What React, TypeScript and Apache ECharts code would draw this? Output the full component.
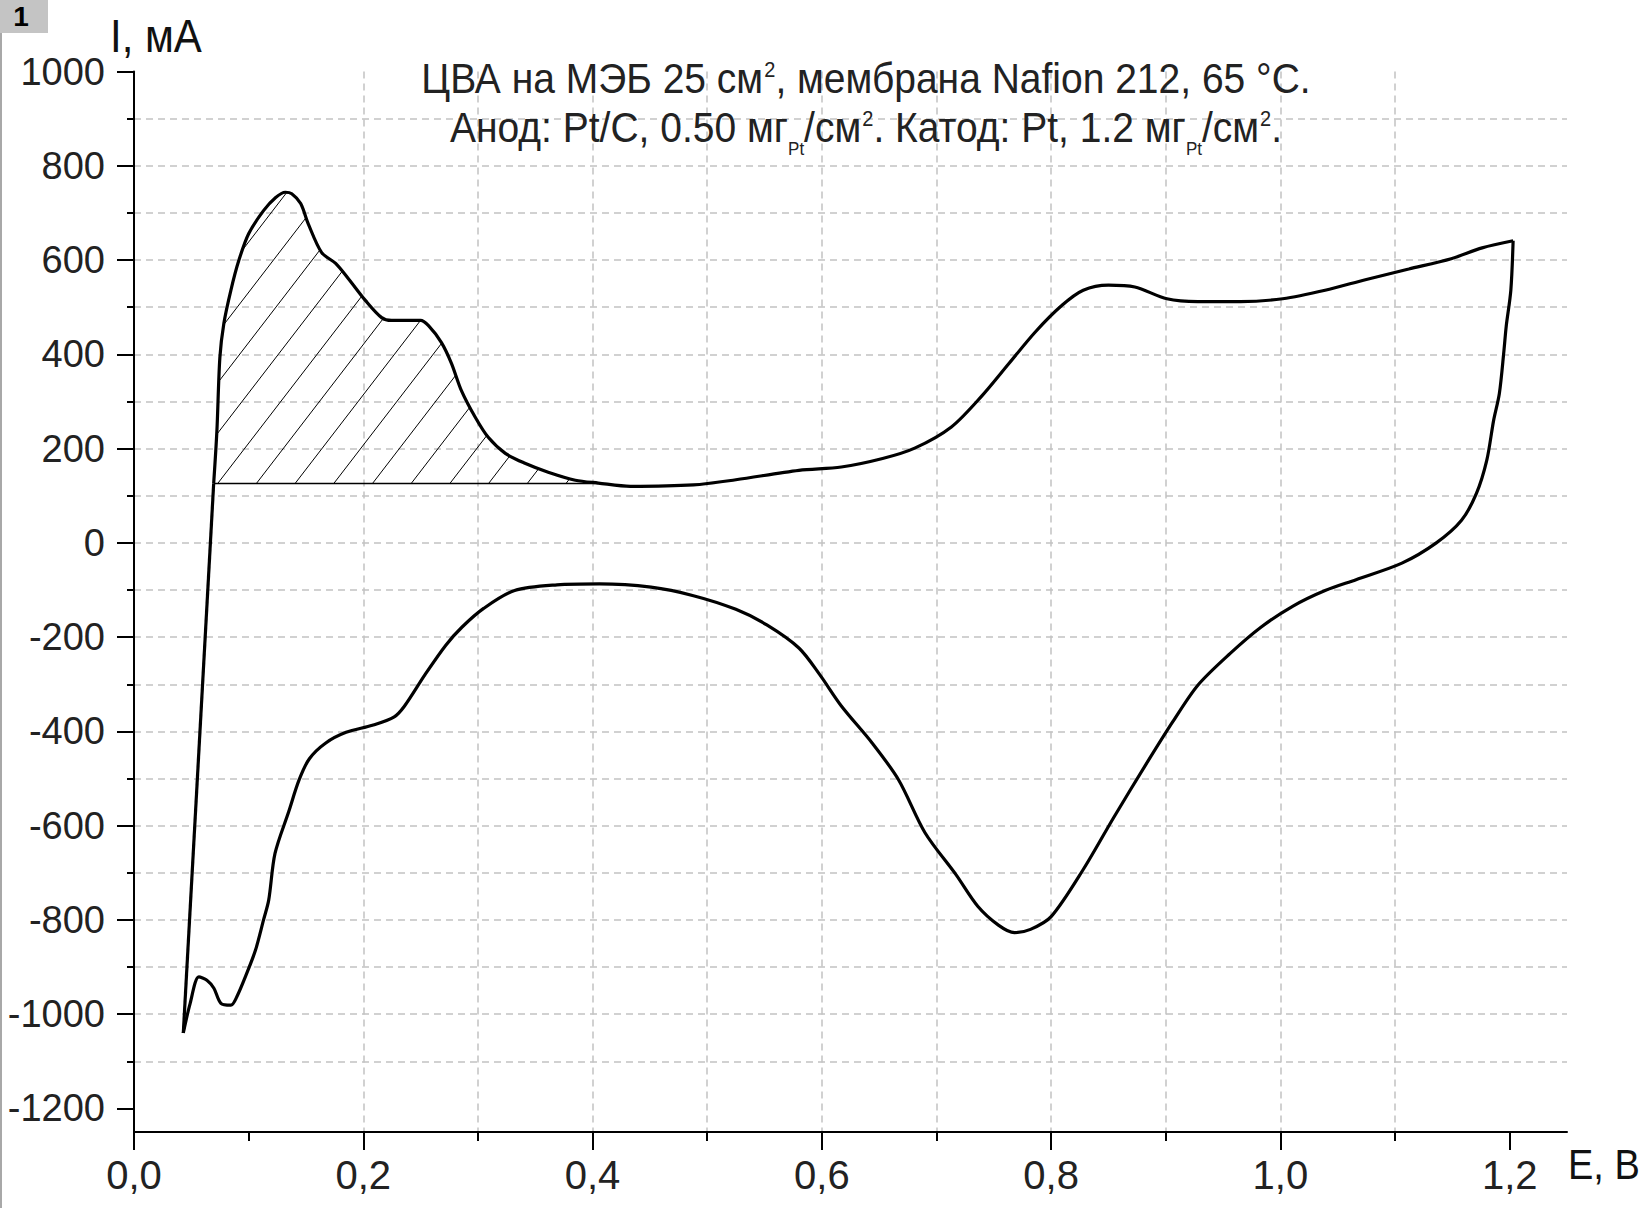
import React, { useEffect, useRef } from "react";
import * as echarts from "echarts";

// ---- data (E, V ; I, mA) ----
const risingEdge: [number, number][] = [
  [0.043, -1040], [0.0695, 126],
];
const anodicScan: [number, number][] = [
  [0.0695, 126], [0.0723, 237], [0.0749, 393], [0.0784, 466], [0.0845, 536], [0.0914, 599],
  [0.1, 656], [0.113, 705], [0.1236, 733], [0.132, 744], [0.1376, 741], [0.1454, 720],
  [0.152, 677], [0.1637, 616], [0.1759, 593], [0.1872, 560], [0.202, 514], [0.216, 478],
  [0.2246, 472], [0.2499, 472], [0.2569, 461], [0.2682, 425], [0.2769, 381], [0.2856, 323],
  [0.2978, 266], [0.309, 224], [0.3239, 190], [0.341, 169], [0.3613, 150], [0.385, 133],
  [0.405, 127], [0.433, 120], [0.488, 123], [0.525, 134], [0.58, 154], [0.617, 161],
  [0.653, 179], [0.681, 201], [0.713, 246], [0.74, 313], [0.763, 380], [0.786, 447],
  [0.809, 503], [0.828, 536], [0.85, 547], [0.873, 543], [0.901, 518], [0.928, 512],
  [0.965, 512], [1.002, 518], [1.039, 536], [1.075, 559], [1.112, 581], [1.149, 603],
  [1.176, 626], [1.203, 641],
];
const cathodicScan: [number, number][] = [
  [1.203, 641], [1.201, 536], [1.197, 460], [1.195, 408], [1.191, 317], [1.186, 260],
  [1.18, 175], [1.171, 105], [1.158, 48], [1.136, 0], [1.106, -43], [1.066, -78],
  [1.039, -101], [1.011, -134], [0.983, -179], [0.956, -235], [0.928, -302], [0.906, -380],
  [0.883, -469], [0.855, -581], [0.828, -693], [0.8, -793], [0.782, -820], [0.768, -827],
  [0.754, -811], [0.736, -771], [0.717, -704], [0.69, -615], [0.667, -503], [0.644, -425],
  [0.617, -346], [0.598, -279], [0.58, -223], [0.552, -174], [0.525, -141], [0.488, -112],
  [0.451, -94], [0.406, -87], [0.369, -89], [0.332, -101], [0.305, -139], [0.286, -179],
  [0.272, -217], [0.254, -279], [0.236, -346], [0.227, -369], [0.208, -387], [0.185, -402],
  [0.167, -425], [0.153, -458], [0.144, -503], [0.135, -570], [0.123, -659], [0.1175, -758],
  [0.113, -800], [0.106, -864], [0.0984, -913], [0.0897, -963], [0.0845, -981], [0.0758, -977],
  [0.0697, -945], [0.0636, -928], [0.0566, -921], [0.049, -977], [0.043, -1040],
];
// hatched (H-desorption) region: baseline current and right limit
const hatchBaseline = 126;
const hatchEndE = 0.405;

const xMajorTicks = [0, 0.2, 0.4, 0.6, 0.8, 1.0, 1.2];
const xGridTicks = [0.1, 0.2, 0.3, 0.4, 0.5, 0.6, 0.7, 0.8, 0.9, 1.0, 1.1, 1.2];
const yMajorTicks = [-1200, -1000, -800, -600, -400, -200, 0, 200, 400, 600, 800, 1000];
const yGridTicks = [-1200, -1100, -1000, -900, -800, -700, -600, -500, -400, -300, -200, -100,
  0, 100, 200, 300, 400, 500, 600, 700, 800, 900, 1000];

const titleLine1 = "{m|ЦВА на МЭБ 25 см}{sup|2}{m|, мембрана Nafion 212, 65 °C.}";
const titleLine2 = "{m|Анод: Pt/C, 0.50 мг}{sub|Pt}{m|/см}{sup|2}{m|. Катод: Pt, 1.2 мг}{sub|Pt}{m|/см}{sup|2}{m|.}";
const yAxisName = "I, мА";
const xAxisName = "E, B";
const panelLabel = "1";

const FONT = "'Liberation Sans', Arial, sans-serif";

export default function App() {
  const ref = useRef<HTMLDivElement>(null);
  useEffect(() => {
    if (!ref.current) return;
    const chart = echarts.init(ref.current, null, { renderer: "svg" });

    const hatchTop = anodicScan.filter((p) => p[0] <= hatchEndE && p[1] >= hatchBaseline - 1);

    const curveStyle = { color: "#000", width: 3.2 };
    const dashed = { color: "#c2c2c2", width: 1.5, type: [7, 5] as any };
    const axisText = { color: "#222", fontFamily: FONT };

    const option: any = {
      animation: false,
      backgroundColor: "#fff",
      grid: { left: 134, right: 85, top: 71.6, bottom: 76, containLabel: false },
      xAxis: [
        {
          type: "value", min: 0, max: 1.25, position: "bottom",
          axisLine: { show: true, onZero: false, lineStyle: { color: "#000", width: 2 } },
          axisTick: { show: true, customValues: xGridTicks, length: 9, lineStyle: { color: "#000", width: 2 } },
          axisLabel: { show: false },
          splitLine: { show: true, showMinLine: false, showMaxLine: false, lineStyle: dashed },
        },
        {
          type: "value", min: 0, max: 1.25, position: "bottom",
          axisLine: { show: false, onZero: false },
          axisTick: { show: true, customValues: xMajorTicks, length: 18, lineStyle: { color: "#000", width: 2 } },
          axisLabel: {
            show: true, customValues: xMajorTicks, margin: 23, fontSize: 40, ...axisText,
            formatter: (v: number) => v.toFixed(1).replace(".", ","),
          },
          splitLine: { show: false },
        },
      ],
      yAxis: [
        {
          type: "value", min: -1250, max: 1000, position: "left",
          axisLine: { show: true, onZero: false, lineStyle: { color: "#000", width: 2 } },
          axisTick: { show: true, customValues: yGridTicks, length: 7, lineStyle: { color: "#000", width: 2 } },
          axisLabel: { show: false },
          splitLine: { show: true, showMinLine: false, showMaxLine: false, lineStyle: dashed },
        },
        {
          type: "value", min: -1250, max: 1000, position: "left",
          axisLine: { show: false, onZero: false },
          axisTick: { show: true, customValues: yMajorTicks, length: 17, lineStyle: { color: "#000", width: 2 } },
          axisLabel: {
            show: true, customValues: yMajorTicks, margin: 29, fontSize: 38, ...axisText,
            formatter: (v: number) => String(v),
          },
          splitLine: { show: false },
        },
      ],
      series: [
        {
          type: "custom",
          coordinateSystem: "cartesian2d",
          xAxisIndex: 0, yAxisIndex: 0,
          silent: true,
          data: [[hatchTop[0][0], hatchBaseline]],
          renderItem: (_params: any, api: any) => {
            const top = hatchTop.map((p) => api.coord(p));
            const baseL = api.coord([hatchTop[0][0], hatchBaseline]);
            const baseR = api.coord([hatchEndE, hatchBaseline]);
            const poly = [...top, baseR, baseL];
            const slope = 1.3;
            const spacing = 38.7;
            const baseY = baseL[1];
            const children: any[] = [];
            for (let x0 = baseL[0] + 4 - 30 * spacing; x0 < baseR[0] + 2; x0 += spacing) {
              const f = (p: number[]) => p[1] - baseY + slope * (p[0] - x0);
              const xs: number[] = [];
              for (let i = 0; i < poly.length; i++) {
                const p = poly[i];
                const q = poly[(i + 1) % poly.length];
                const fp = f(p), fq = f(q);
                if ((fp <= 0 && fq > 0) || (fp > 0 && fq <= 0)) {
                  const s = fp / (fp - fq);
                  xs.push(p[0] + s * (q[0] - p[0]));
                }
              }
              xs.sort((a, b) => a - b);
              for (let k = 0; k + 1 < xs.length; k += 2) {
                const xa = xs[k], xb = xs[k + 1];
                if (xb - xa < 0.5) continue;
                children.push({
                  type: "line",
                  shape: { x1: xa, y1: baseY - slope * (xa - x0), x2: xb, y2: baseY - slope * (xb - x0) },
                  style: { stroke: "#000", lineWidth: 1 },
                });
              }
            }
            children.push({
              type: "line",
              shape: { x1: baseL[0], y1: baseY, x2: baseR[0], y2: baseY },
              style: { stroke: "#000", lineWidth: 1.6 },
            });
            return { type: "group", children };
          },
          z: 2,
        },
        {
          type: "line", data: risingEdge, smooth: false, showSymbol: false,
          lineStyle: curveStyle, z: 3,
        },
        {
          type: "line", data: anodicScan, smooth: 0.3, showSymbol: false,
          lineStyle: curveStyle, z: 3,
        },
        {
          type: "line", data: cathodicScan, smooth: 0.3, showSymbol: false,
          lineStyle: curveStyle, z: 3,
        },
      ],
      graphic: [
        { type: "rect", shape: { x: 0, y: 0, width: 2, height: 1208 }, style: { fill: "#a8a8a8" }, z: 10 },
        { type: "rect", shape: { x: 0, y: 0, width: 48, height: 33 }, style: { fill: "#c4c4c4" }, z: 10 },
        {
          type: "text", x: 21, y: 16, z: 11,
          style: { text: panelLabel, fontSize: 28, fontWeight: "bold", fontFamily: FONT, fill: "#000", align: "center", verticalAlign: "middle" },
        },
        {
          type: "text", x: 110, y: 13, z: 11, scaleY: 1.08,
          style: { text: yAxisName, fontSize: 42, fontFamily: FONT, fill: "#111", align: "left", verticalAlign: "top" },
        },
        {
          type: "text", x: 1568, y: 1142, z: 11, scaleY: 1.14,
          style: { text: xAxisName, fontSize: 38, fontFamily: FONT, fill: "#111", align: "left", verticalAlign: "top" },
        },
        {
          type: "text", x: 866, y: 57, z: 11, scaleY: 1.1,
          style: {
            text: titleLine1, align: "center", verticalAlign: "top", fill: "#222",
            rich: {
              m: { fontSize: 39, fontFamily: FONT, fill: "#222", verticalAlign: "top" },
              sup: { fontSize: 20, fontFamily: FONT, fill: "#222", verticalAlign: "top", padding: [1, 0, 0, 1] },
            },
          },
        },
        {
          type: "text", x: 866, y: 106, z: 11, scaleY: 1.1,
          style: {
            text: titleLine2, align: "center", verticalAlign: "top", fill: "#222",
            rich: {
              m: { fontSize: 39, fontFamily: FONT, fill: "#222", verticalAlign: "top" },
              sup: { fontSize: 20, fontFamily: FONT, fill: "#222", verticalAlign: "top", padding: [1, 0, 0, 1] },
              sub: { fontSize: 17, fontFamily: FONT, fill: "#222", verticalAlign: "top", padding: [30, 0, 0, 0] },
            },
          },
        },
      ],
    };
    chart.setOption(option);
    return () => chart.dispose();
  }, []);
  return (
    <div
      ref={ref}
      style={{ position: "absolute", left: 0, top: 0, width: 1652, height: 1208, background: "#fff" }}
    />
  );
}
